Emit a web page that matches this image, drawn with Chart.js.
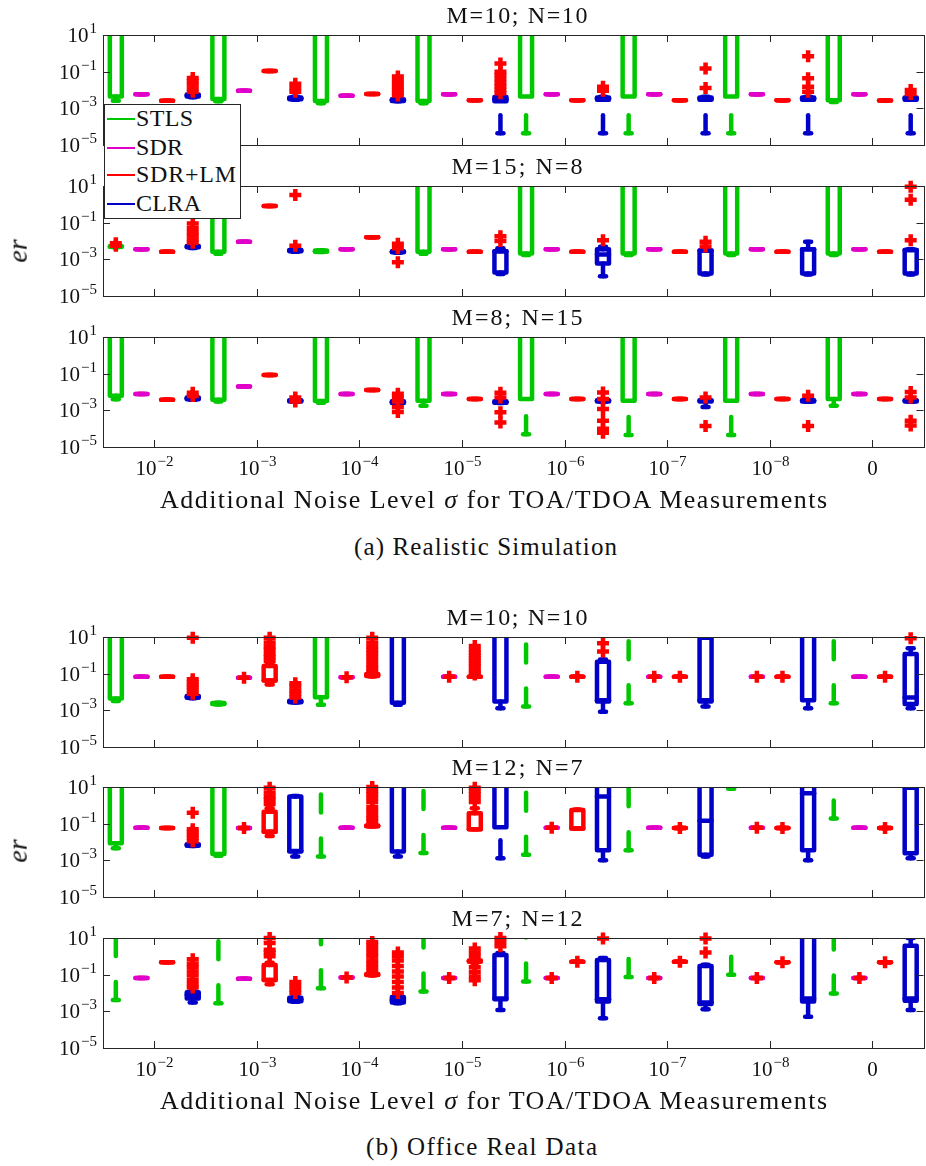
<!DOCTYPE html>
<html>
<head>
<meta charset="utf-8">
<title>er vs additional noise level</title>
<script src="https://cdn.jsdelivr.net/npm/chart.js@4.4.1/dist/chart.umd.min.js"></script>
<style>
  html, body { margin: 0; padding: 0; background: #fff; overflow: hidden; }
  body { position: relative; width: 926px; height: 1166px; font-family: "Liberation Serif", "DejaVu Serif", serif; color: #111; }
  canvas { position: absolute; left: 0; }
  .txt { position: absolute; white-space: nowrap; line-height: 1; z-index: 3; }
  #legend { position: absolute; left: 104px; top: 104px; width: 137px; height: 115px; box-sizing: border-box; border: 1px solid #262626; background: #fff; z-index: 2; }
  .swatch { position: absolute; height: 2px; width: 28px; left: 107px; z-index: 3; }
</style>
</head>
<body>
<div id="legend"></div>
<script>
// groups on the x axis and the four methods inside each group
const noiseLevels = ["10^-2", "10^-3", "10^-4", "10^-5", "10^-6", "10^-7", "10^-8", "0"];
const methods = ["STLS", "SDR", "SDR+LM", "CLRA"];
const methodColors = ["#00c800", "#e000c8", "#ff0000", "#0000c8"];
const yTicks = [1e1, 1e-1, 1e-3, 1e-5];
const panelTitles = ["M=10; N=10", "M=15; N=8", "M=8; N=15", "M=10; N=10", "M=12; N=7", "M=7; N=12"];

// box per method and noise level: [lower whisker, q1, median, q3, upper whisker, outliers]
// a plain number is a box squeezed to one value, [value, outliers] the same with outliers
const simM10N10 = [
  [2.6e-3, 4.4e-3, 300, 2000, 1e4], 5.8e-3, 2.6e-3,
  [4.0e-3, 4.4e-3, 5.0e-3, 5.6e-3, 6.2e-3, [8e-3, 1.2e-2, 2e-2, 3e-2, 4.5e-2]],
  [2.4e-3, 3.2e-3, 300, 2000, 1e4], 9.0e-3, 0.11,
  [2.9e-3, 3.1e-3, 3.5e-3, 3.9e-3, 4.3e-3, [8e-3, 1.3e-2, 2.2e-2]],
  [1.9e-3, 2.5e-3, 300, 2000, 1e4], 4.9e-3, 6.0e-3,
  [2.4e-3, 2.5e-3, 2.8e-3, 3.1e-3, 3.3e-3, [5e-3, 7e-3, 1e-2, 1.5e-2, 2.2e-2, 3.5e-2, 5.5e-2]],
  [1.9e-3, 2.5e-3, 300, 2000, 1e4], 5.8e-3, 2.8e-3,
  [4.4e-5, 2.4e-3, 3.1e-3, 4.2e-3, 4.6e-3, [6.6e-3, 1e-2, 1.6e-2, 2.5e-2, 4e-2, 6.5e-2, 0.1, 0.28]],
  [4.4e-5, 4.4e-3, 300, 2000, 1e4], 5.8e-3, 2.8e-3,
  [4.4e-5, 2.9e-3, 3.5e-3, 3.9e-3, 4.3e-3, [9e-3, 1.5e-2]],
  [4.4e-5, 4.4e-3, 300, 2000, 1e4], 5.8e-3, 2.8e-3,
  [4.4e-5, 2.9e-3, 3.5e-3, 3.9e-3, 4.3e-3, [1.3e-2, 0.15]],
  [4.4e-5, 4.4e-3, 300, 2000, 1e4], 5.8e-3, 2.8e-3,
  [4.4e-5, 2.9e-3, 3.5e-3, 3.9e-3, 4.3e-3, [8e-3, 1.5e-2, 4.4e-2, 0.7]],
  [2.2e-3, 2.8e-3, 300, 2000, 1e4], 5.8e-3, 2.7e-3,
  [4.4e-5, 2.9e-3, 3.5e-3, 3.9e-3, 4.3e-3, [6e-3, 1e-2]]
];
const simM15N8 = [
  [4.6e-3, 4.8e-3, 5.0e-3, 5.2e-3, 5.4e-3, [5.5e-3, 7.5e-3]], 3.5e-3, 2.6e-3,
  [4.2e-3, 4.5e-3, 4.9e-3, 5.3e-3, 5.7e-3, [8e-3, 1.2e-2, 2e-2, 3e-2, 5e-2, 9e-2]],
  [2.0e-3, 2.6e-3, 300, 2000, 1e4], 9.0e-3, 0.8,
  [2.6e-3, 2.8e-3, 3.0e-3, 3.2e-3, 3.4e-3, [5.5e-3, 3.2]],
  [2.5e-3, 2.6e-3, 2.8e-3, 3.0e-3, 3.1e-3], 3.5e-3, 1.6e-2,
  [2.3e-3, 2.4e-3, 2.6e-3, 2.8e-3, 3.0e-3, [7e-4, 4e-3, 7e-3]],
  [2.0e-3, 2.6e-3, 300, 2000, 1e4], 3.5e-3, 2.6e-3,
  [1.6e-4, 1.9e-4, 2.8e-3, 2.8e-3, 4.0e-3, [1e-2, 1.8e-2]],
  [1.7e-3, 2.1e-3, 300, 2000, 1e4], 3.5e-3, 2.6e-3,
  [1.2e-4, 6.0e-4, 1.85e-3, 3.6e-3, 4.9e-3, [1.1e-2]],
  [1.7e-3, 2.1e-3, 300, 2000, 1e4], 3.5e-3, 2.6e-3,
  [1.5e-4, 1.7e-4, 3.0e-3, 3.0e-3, 3.3e-3, [5e-3, 9e-3]],
  [1.7e-3, 2.1e-3, 300, 2000, 1e4], 3.5e-3, 2.6e-3,
  [1.5e-4, 1.7e-4, 3.5e-3, 3.5e-3, 9e-3],
  [1.7e-3, 2.1e-3, 300, 2000, 1e4], 3.5e-3, 2.6e-3,
  [1.5e-4, 1.7e-4, 3.2e-3, 3.2e-3, 3.5e-3, [1.1e-2, 1.8, 9]]
];
const simM8N15 = [
  [4.0e-3, 6.3e-3, 300, 2000, 1e4], 7.8e-3, 3.8e-3,
  [3.8e-3, 4.0e-3, 4.5e-3, 5.0e-3, 5.4e-3, [6e-3, 9e-3]],
  [3.0e-3, 3.8e-3, 300, 2000, 1e4], 2.0e-2, 8.5e-2,
  [2.9e-3, 3.0e-3, 3.3e-3, 3.6e-3, 3.8e-3, [3e-3, 5e-3]],
  [2.6e-3, 3.2e-3, 300, 2000, 1e4], 7.8e-3, 1.3e-2,
  [2.4e-3, 2.5e-3, 2.8e-3, 3.1e-3, 3.3e-3, [8e-4, 1.5e-3, 3e-3, 5e-3, 8e-3]],
  [1.8e-3, 3.3e-3, 300, 2000, 1e4], 7.8e-3, 4.2e-3,
  [2.5e-3, 2.6e-3, 2.8e-3, 3.1e-3, 3.3e-3, [2.2e-4, 7.8e-4, 5e-3, 9e-3]],
  [5.0e-5, 4.2e-3, 300, 2000, 1e4], 7.8e-3, 4.2e-3,
  [2.9e-3, 3.0e-3, 3.3e-3, 3.6e-3, 3.8e-3, [6e-5, 1e-4, 2.7e-4, 1.2e-3, 4.2e-3, 9.5e-3]],
  [4.5e-5, 3.3e-3, 300, 2000, 1e4], 7.8e-3, 4.2e-3,
  [1.5e-3, 3.0e-3, 3.3e-3, 3.6e-3, 3.8e-3, [1.4e-4, 5e-3]],
  [4.5e-5, 3.3e-3, 300, 2000, 1e4], 7.8e-3, 4.2e-3,
  [2.9e-3, 3.0e-3, 3.3e-3, 3.6e-3, 3.8e-3, [1.4e-4, 6.3e-3]],
  [1.8e-3, 4.2e-3, 300, 2000, 1e4], 7.8e-3, 4.2e-3,
  [2.9e-3, 3.0e-3, 3.3e-3, 3.6e-3, 3.8e-3, [1.5e-4, 2.7e-4, 5e-3, 1e-2]]
];
const realM10N10 = [
  [3.2e-3, 4.4e-3, 300, 2000, 1e4], 6.8e-2, 6.8e-2,
  [4.6e-3, 4.9e-3, 5.5e-3, 6.1e-3, 6.6e-3, [8e-3, 1.2e-2, 1.8e-2, 2.5e-2, 3.5e-2, 5e-2, 9]],
  [2.1e-3, 2.2e-3, 2.3e-3, 2.5e-3, 2.6e-3], [6.0e-2, [6.0e-2]],
  [2.6e-2, 4.2e-2, 4.2e-2, 0.26, 0.4, [0.5, 0.8, 1.2, 2, 3, 5, 9]],
  [2.7e-3, 2.8e-3, 3.0e-3, 3.3e-3, 3.5e-3, [5e-3, 8e-3, 1.2e-2, 2e-2, 3e-2]],
  [2.0e-3, 5.1e-3, 300, 2000, 1e4], [6.3e-2, [6.3e-2]],
  [7.0e-2, 7.5e-2, 8.5e-2, 9.5e-2, 0.1, [0.13, 0.2, 0.3, 0.5, 0.8, 1.3, 2, 3, 5, 9]],
  [2.0e-3, 2.6e-3, 300, 2000, 1e4],
  [15, 30, 100, 300, 1000], [6.8e-2, [6.8e-2]],
  [6.8e-2, [0.09, 0.12, 0.17, 0.25, 0.35, 0.5, 0.7, 1, 1.4, 2, 3.2]],
  [1.3e-3, 3.0e-3, 300, 2000, 1e4],
  [1.6e-3, 20, 100, 300, 1000], 6.8e-2, [6.8e-2, [6.8e-2]],
  [8.3e-4, 3.0e-3, 3.5e-3, 0.45, 0.6, [1.6, 4.5]],
  [2.4e-3, 20, 100, 300, 1000], [6.8e-2, [6.8e-2]], [6.8e-2, [6.8e-2]],
  [1.6e-3, 3.0e-3, 3.5e-3, 9, 10],
  [15, 30, 100, 300, 1000], [6.8e-2, [6.8e-2]], [6.8e-2, [6.8e-2]],
  [1.3e-3, 3.6e-3, 300, 2000, 1e4],
  [2.4e-3, 20, 100, 300, 1000], 6.8e-2, [6.8e-2, [6.8e-2]],
  [1.3e-3, 2.2e-3, 5.0e-3, 1.2, 2.4, [8.5]]
];
const realM12N7 = [
  [4.6e-3, 8.5e-3, 300, 2000, 1e4], 6.0e-2, 5.8e-2,
  [6.0e-3, 6.3e-3, 6.9e-3, 7.5e-3, 8.0e-3, [1.1e-2, 1.7e-2, 2.5e-2, 3.5e-2, 5e-2, 0.4]],
  [1.8e-3, 2.2e-3, 300, 2000, 1e4], [5.8e-2, [5.8e-2]],
  [2.1e-2, 3.6e-2, 3.6e-2, 0.45, 0.7, [1.2, 2, 3, 5, 9]],
  [1.6e-3, 3.0e-3, 3.2e-3, 3.0, 3.2],
  [1.6e-3, 20, 100, 300, 1000], 6.0e-2,
  [7.0e-2, 7.2e-2, 7.5e-2, 8.0e-2, 8.5e-2, [0.13, 0.2, 0.3, 0.5, 0.8, 1.5, 2.5, 4, 6, 10]],
  [1.6e-3, 3.0e-3, 300, 2000, 1e4],
  [2.5e-3, 20, 100, 300, 1000], 6.0e-2,
  [4.9e-2, 4.9e-2, 4.9e-2, 0.37, 0.7, [1.5, 2.5, 4, 6, 9]],
  [1.3e-3, 6.3e-2, 300, 2000, 1e4],
  [2.0e-3, 20, 100, 300, 1000], [6.0e-2, [6.0e-2]],
  [5.5e-2, 5.5e-2, 5.5e-2, 0.56, 0.6],
  [1.0e-3, 3.6e-3, 3.0, 300, 1e4],
  [3.6e-3, 20, 100, 300, 1000], 6.0e-2, [5.8e-2, [5.8e-2]],
  [1.6e-3, 2.0e-3, 0.145, 300, 1e4],
  [8, 20, 100, 300, 1000], [6.0e-2, [6.0e-2]], [5.8e-2, [5.8e-2]],
  [1.0e-3, 3.6e-3, 4.5, 300, 1e4],
  [0.19, 20, 100, 300, 1000], 6.0e-2, [5.8e-2, [5.8e-2]],
  [1.3e-3, 2.4e-3, 9, 300, 1e4]
];
const realM7N12 = [
  [4.2e-3, 20, 100, 300, 1000], 6.6e-2, 0.47,
  [3.0e-3, 5.0e-3, 8.0e-3, 1.1e-2, 1.2e-2, [2e-2, 3e-2, 5e-2, 9e-2, 0.15, 0.25, 0.4, 0.7]],
  [2.8e-3, 20, 100, 300, 1000], 6.0e-2,
  [3.0e-2, 5.1e-2, 5.1e-2, 0.34, 0.45, [1, 1.6, 2.3, 5.3, 10]],
  [3.3e-3, 3.5e-3, 4.5e-3, 5.5e-3, 6.0e-3, [1e-2, 1.5e-2, 2.5e-2, 4e-2]],
  [1.8e-2, 20, 100, 300, 1000], [7.0e-2, [7.0e-2]],
  [9.0e-2, 9.5e-2, 0.1, 0.11, 0.12, [0.16, 0.25, 0.4, 0.6, 1, 1.5, 2.5, 4, 6]],
  [2.8e-3, 3.0e-3, 4.2e-3, 6.0e-3, 6.5e-3, [1e-2, 2e-2, 4e-2, 8e-2, 0.15, 0.3, 0.6, 1, 1.6]],
  [1.2e-2, 20, 100, 300, 1000], [6.6e-2, [6.6e-2]],
  [0.45, 0.5, 0.55, 0.6, 0.65, [0.05, 0.08, 0.14, 0.25, 1, 1.6, 2.7]],
  [1.2e-3, 4.6e-3, 5.0e-3, 1.2, 1.5, [3.5, 6, 10]],
  [4.2e-2, 20, 100, 300, 1000], [6.6e-2, [6.6e-2]], [0.51, [0.51]],
  [4.2e-4, 3.4e-3, 4.5e-3, 0.63, 0.8, [9.5]],
  [7.5e-2, 20, 100, 300, 1000], [6.6e-2, [6.6e-2]], [0.51, [0.51]],
  [1.3e-3, 2.5e-3, 3.0e-3, 0.3, 0.35, [1.6, 9.5]],
  [0.1, 20, 100, 300, 1000], [6.6e-2, [6.6e-2]], [0.47, [0.47]],
  [5.0e-4, 3.4e-3, 5.0e-3, 300, 1e4],
  [9.5e-3, 20, 100, 300, 1000], [6.6e-2, [6.6e-2]], [0.47, [0.47]],
  [1.2e-3, 3.8e-3, 5.0e-3, 3.8, 10]
];

// layout
const CANVAS_W = 934;
const PAD_TOP = 20;
const PLOT_H = 110;
const LINE_W = 4.5;
const BOX_HALF = 6;
const FRAME = "#262626";
const TICK_FONT = '21px "Liberation Serif"';
const EXP_FONT = '15px "Liberation Serif"';

const panels = [
  { title: panelTitles[0], boxes: simM10N10, top: 35, labels: false },
  { title: panelTitles[1], boxes: simM15N8, top: 186, labels: false },
  { title: panelTitles[2], boxes: simM8N15, top: 337, labels: true },
  { title: panelTitles[3], boxes: realM10N10, top: 637, labels: false },
  { title: panelTitles[4], boxes: realM12N7, top: 787, labels: false },
  { title: panelTitles[5], boxes: realM7N12, top: 938, labels: true }
];

function toBox(e) {
  if (typeof e === "number") return { s: [e, e, e, e, e], out: [] };
  if (e.length === 2) return { s: [e[0], e[0], e[0], e[0], e[0]], out: e[1] };
  return { s: e.slice(0, 5), out: e[5] || [] };
}

function seg(ctx, x1, y1, x2, y2) {
  ctx.beginPath();
  ctx.moveTo(x1, y1);
  ctx.lineTo(x2, y2);
  ctx.stroke();
}

function boxPlugin(boxes) {
  return {
    id: "boxes",
    beforeDatasetsDraw(chart) {
      const { ctx, chartArea: a, scales: { x, y } } = chart;
      const py = (v) => Math.max(-5000, Math.min(5000, y.getPixelForValue(v)));
      ctx.save();
      ctx.beginPath();
      ctx.rect(a.left, a.top, a.right - a.left, a.bottom - a.top);
      ctx.clip();
      ctx.lineWidth = LINE_W;
      ctx.lineCap = "round";
      ctx.lineJoin = "round";
      boxes.forEach((b, i) => {
        const [wlo, q1, med, q3, whi] = b.s;
        const cx = x.getPixelForValue(i + 1);
        ctx.strokeStyle = methodColors[i % 4];
        // dashed whiskers, pattern starts at the whisker end
        ctx.setLineDash([18, 26]);
        if (wlo < q1) seg(ctx, cx, py(wlo), cx, py(q1));
        if (whi > q3) seg(ctx, cx, py(whi), cx, py(q3));
        ctx.setLineDash([]);
        seg(ctx, cx - BOX_HALF / 2, py(wlo), cx + BOX_HALF / 2, py(wlo));
        seg(ctx, cx - BOX_HALF / 2, py(whi), cx + BOX_HALF / 2, py(whi));
        ctx.strokeRect(cx - BOX_HALF, py(q3), 2 * BOX_HALF, py(q1) - py(q3));
        seg(ctx, cx - BOX_HALF, py(med), cx + BOX_HALF, py(med));
      });
      ctx.restore();
    }
  };
}

function drawPow(ctx, label, x, baseline, align) {
  const parts = label.split("^");
  const base = parts[0];
  const exp = parts[1] ? parts[1].replace("-", "\u2212") : "";
  ctx.font = TICK_FONT;
  const wb = ctx.measureText(base).width;
  ctx.font = EXP_FONT;
  const we = exp ? ctx.measureText(exp).width + 1 : 0;
  const left = align === "right" ? x - wb - we : x - (wb + we) / 2;
  ctx.textAlign = "left";
  ctx.textBaseline = "alphabetic";
  ctx.fillStyle = "#111";
  ctx.font = TICK_FONT;
  ctx.fillText(base, left, baseline);
  if (exp) {
    ctx.font = EXP_FONT;
    ctx.fillText(exp, left + wb + 1, baseline - 9);
  }
}

function axesPlugin(panel) {
  return {
    id: "frame",
    afterDatasetsDraw(chart) {
      const { ctx, chartArea: a, scales: { x, y } } = chart;
      ctx.save();
      ctx.strokeStyle = FRAME;
      ctx.lineWidth = 1;
      ctx.strokeRect(Math.round(a.left) + 0.5, Math.round(a.top) + 0.5,
        Math.round(a.right - a.left), Math.round(a.bottom - a.top));
      const tl = 7;
      noiseLevels.forEach((lab, k) => {
        const px = Math.round(x.getPixelForValue(4 * k + 2.5)) + 0.5;
        seg(ctx, px, a.bottom, px, a.bottom - tl);
        seg(ctx, px, a.top, px, a.top + tl);
        if (panel.labels) drawPow(ctx, lab, px, a.bottom + 28, "center");
      });
      yTicks.forEach((v) => {
        const pyv = Math.round(y.getPixelForValue(v)) + 0.5;
        ctx.strokeStyle = FRAME;
        ctx.lineWidth = 1;
        seg(ctx, a.left, pyv, a.left + tl, pyv);
        seg(ctx, a.right, pyv, a.right - tl, pyv);
        drawPow(ctx, "10^" + Math.round(Math.log10(v)), a.left - 6, pyv + 6, "right");
      });
      ctx.restore();
    }
  };
}

panels.forEach((p) => {
  const boxes = p.boxes.map(toBox);
  const cv = document.createElement("canvas");
  const padBottom = p.labels ? 45 : 20;
  cv.width = CANVAS_W;
  cv.height = PAD_TOP + PLOT_H + padBottom;
  cv.style.top = (p.top - PAD_TOP) + "px";
  document.body.appendChild(cv);

  const datasets = methods.map((m, k) => ({
    label: m,
    data: boxes.flatMap((b, i) => (i % 4 === k ? b.out.map((v) => ({ x: i + 1, y: v })) : [])),
    pointStyle: "cross",
    pointRadius: 6,
    borderWidth: 4.5,
    borderColor: "#ff0000",
    backgroundColor: "#ff0000",
    clip: 10
  }));

  new Chart(cv, {
    type: "scatter",
    data: { datasets },
    options: {
      responsive: false,
      animation: false,
      events: [],
      layout: { padding: { left: 103, right: 4, top: PAD_TOP, bottom: padBottom } },
      scales: {
        x: { type: "linear", min: 0.5, max: 32.5, display: false },
        y: { type: "logarithmic", min: 1e-5, max: 1e1, display: false }
      },
      plugins: { legend: { display: false }, tooltip: { enabled: false } }
    },
    plugins: [boxPlugin(boxes), axesPlugin(p)]
  });
});

// text set as html
function addText(html, o) {
  const d = document.createElement("div");
  d.className = "txt";
  d.innerHTML = html;
  d.style.fontSize = o.size + "px";
  if (o.italic) d.style.fontStyle = "italic";
  document.body.appendChild(d);
  if (o.width) {
    const n = d.textContent.length;
    const w = d.getBoundingClientRect().width;
    d.style.letterSpacing = ((o.width - w) / (n - 1)) + "px";
  }
  const left = o.left !== undefined ? o.left : o.center - o.width / 2;
  d.style.left = left + "px";
  d.style.top = (o.baseline - 0.8375 * o.size) + "px";
  return d;
}

const titleWidths = [141, 131, 131, 141, 131, 131];
panels.forEach((p, i) => {
  addText(p.title, { size: 24, center: 517, width: titleWidths[i], baseline: p.top - 12 });
});

addText("Additional Noise Level <i>σ</i> for TOA/TDOA Measurements", { size: 26, left: 160, width: 667, baseline: 509 });
addText("Additional Noise Level <i>σ</i> for TOA/TDOA Measurements", { size: 26, left: 160, width: 667, baseline: 1110 });
addText("(a) Realistic Simulation", { size: 25, left: 354, width: 263, baseline: 555 });
addText("(b) Office Real Data", { size: 25, left: 366, width: 231, baseline: 1155 });

[251, 851].forEach((cy) => {
  const d = addText("er", { size: 28, italic: true, left: 0, baseline: 0 });
  const r = d.getBoundingClientRect();
  d.style.left = (18 - r.width / 2) + "px";
  d.style.top = (cy - r.height / 2) + "px";
  d.style.transform = "rotate(-90deg)";
});

// legend
const legendBaselines = [126, 155, 182, 211];
const legendWidths = [57, 47, 100, 65];
methods.forEach((m, k) => {
  const sw = document.createElement("div");
  sw.className = "swatch";
  sw.style.background = methodColors[k];
  sw.style.top = (legendBaselines[k] - 8) + "px";
  document.body.appendChild(sw);
  addText(m, { size: 24, left: 136, width: legendWidths[k], baseline: legendBaselines[k] });
});
</script>
</body>
</html>
